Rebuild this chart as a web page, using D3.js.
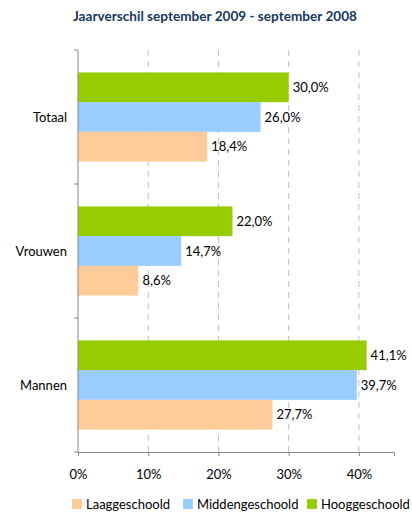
<!DOCTYPE html>
<html>
<head>
<meta charset="utf-8">
<script src="https://cdn.jsdelivr.net/npm/d3@7"></script>
<style>
	body { margin: 0; background: #fff; }
	text { font-family: Lato, "Open Sans", sans-serif; fill: #000; }
</style>
</head>
<body>
<div id="chart"></div>
<script>
'use strict';

let title = 'Jaarverschil september 2009 - september 2008';
let categories = ['Totaal', 'Vrouwen', 'Mannen'];
let series = ['Hooggeschoold', 'Middengeschoold', 'Laaggeschoold'];
let legend_order = ['Laaggeschoold', 'Middengeschoold', 'Hooggeschoold'];
let colors = ['#99cc00', '#99ccff', '#ffcc99'];
let hoog = [30.0, 22.0, 41.1];
let midden = [26.0, 14.7, 39.7];
let laag = [18.4, 8.6, 27.7];
let ticks = [0, 10, 20, 30, 40];

let values = [hoog, midden, laag];
let W = 412, H = 514;
let m = {top: 50, left: 78, right: 18, bottom: 62};
let fs = '13px';

let svg = d3.select('#chart').append('svg')
	.attr('width', W)
	.attr('height', H)
	;

svg.append('text')
	.attr('x', 215)
	.attr('y', 21)
	.attr('text-anchor', 'middle')
	.style('font-weight', 'bold')
	.style('font-size', '13.6px')
	.style('fill', '#17375e')
	.text(title);

let x = d3.scaleLinear().domain([0, 45]).range([m.left, W - m.right]);
let y = d3.scaleBand().domain(categories).range([m.top, H - m.bottom])
	.paddingInner(0.335).paddingOuter(0.1675);
let yi = d3.scaleBand().domain(series).range([0, y.bandwidth()]);

let fmt = function(v) { return v.toFixed(1).replace('.', ',') + '%'; };

// grid
svg.append('g').selectAll('line')
	.data(ticks.slice(1))
	.join('line')
		.attr('x1', d => x(d)).attr('x2', d => x(d))
		.attr('y1', m.top).attr('y2', H - m.bottom)
		.attr('stroke', '#bfbfbf')
		.attr('stroke-dasharray', '6,5')
		;

// bars
let groups = svg.append('g').selectAll('g')
	.data(categories)
	.join('g')
		.attr('transform', d => 'translate(0,' + y(d) + ')')
		;

for (let s = 0; s < series.length; ++s) {
	groups.append('rect')
		.attr('x', x(0))
		.attr('y', yi(series[s]))
		.attr('width', (d, i) => x(values[s][i]) - x(0))
		.attr('height', yi.bandwidth())
		.attr('fill', colors[s])
		;
	groups.append('text')
		.attr('x', (d, i) => x(values[s][i]) + 4)
		.attr('y', yi(series[s]) + yi.bandwidth() / 2)
		.attr('dy', '0.35em')
		.style('font-size', fs)
		.text((d, i) => fmt(values[s][i]));
}

// axes
let xa = svg.append('g')
	.attr('transform', 'translate(0,' + (H - m.bottom) + ')')
	.call(d3.axisBottom(x).tickValues(ticks).tickFormat(d => d + '%').tickSizeOuter(0).tickSize(4));
xa.select('.domain').attr('stroke', '#868686');
xa.selectAll('.tick line').attr('stroke', '#868686');
xa.selectAll('.tick text').attr('dy', '1.5em').style('font-size', fs).style('font-family', 'Lato, "Open Sans", sans-serif').attr('fill', '#000');

let ya = svg.append('g');
ya.append('line')
	.attr('x1', x(0)).attr('x2', x(0))
	.attr('y1', m.top).attr('y2', H - m.bottom)
	.attr('stroke', '#868686');
let bounds = [m.top].concat(categories.map(c => y(c) + y.bandwidth() + y.step() * y.paddingInner() / 2));
ya.selectAll('line.tk')
	.data(bounds)
	.join('line')
		.classed('tk', true)
		.attr('x1', x(0) - 4).attr('x2', x(0))
		.attr('y1', d => d).attr('y2', d => d)
		.attr('stroke', '#868686');
ya.selectAll('text')
	.data(categories)
	.join('text')
		.attr('x', x(0) - 11)
		.attr('y', d => y(d) + y.bandwidth() / 2)
		.attr('dy', '0.35em')
		.attr('text-anchor', 'end')
		.style('font-size', fs)
		.text(d => d);

// legend
let lx = [72, 183, 307];
let leg = svg.append('g').selectAll('g')
	.data(legend_order)
	.join('g')
		.attr('transform', (d, i) => 'translate(' + lx[i] + ',' + 504 + ')')
		;
leg.append('rect')
	.attr('x', 0).attr('y', -5)
	.attr('width', 10).attr('height', 10)
	.attr('fill', d => colors[series.indexOf(d)]);
leg.append('text')
	.attr('x', 14)
	.attr('y', 0)
	.attr('dy', '0.35em')
	.style('font-size', fs)
	.text(d => d);
</script>
</body>
</html>
